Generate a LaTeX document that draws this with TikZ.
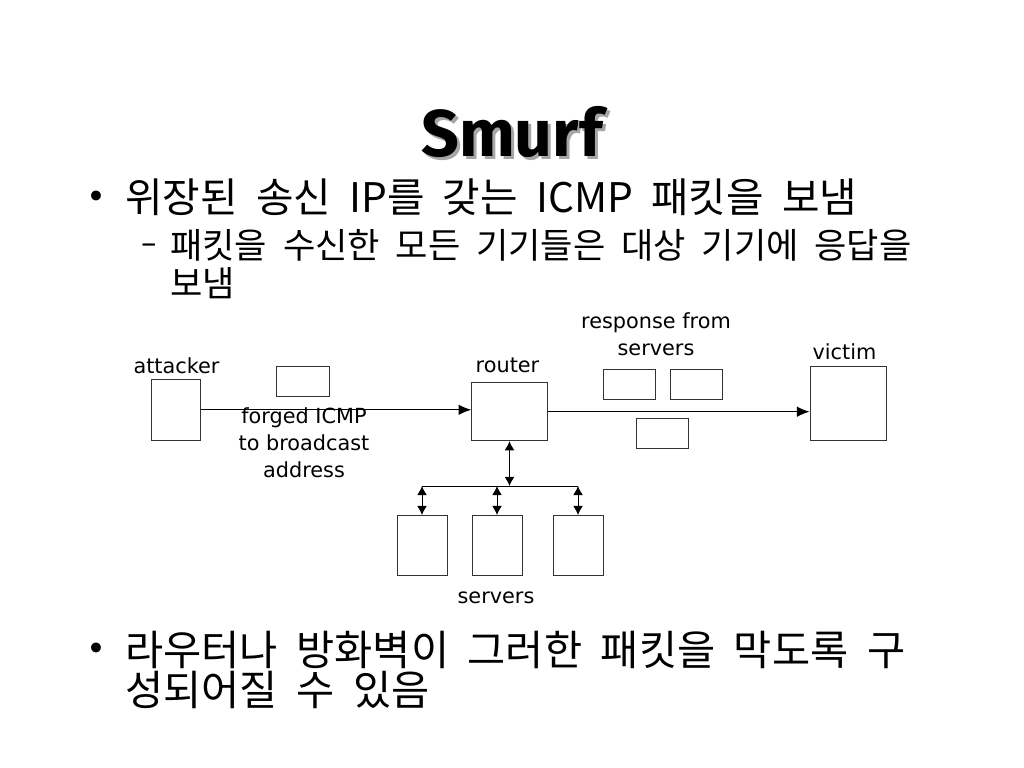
\documentclass[tikz,border=0pt]{standalone}
\usepackage{fontspec}
\setmainfont{DejaVu Sans}
\newfontfamily\krfont[WordSpace=2]{Noto Sans CJK KR}
\newfontfamily\titlefont{Fira Sans}
\usetikzlibrary{arrows.meta}

\begin{document}
\begin{tikzpicture}[x=0.025cm,y=-0.025cm,
	host/.style={draw=black!80,line width=0.7pt,inner sep=0},
	pkt/.style={draw=black!80,line width=0.7pt,inner sep=0,minimum width=1.31cm,minimum height=0.75cm},
	lbl/.style={font=\fontsize{14.8}{19}\selectfont,inner sep=0,anchor=base,align=center},
	flow/.style={line width=0.7pt,-{Latex[length=9pt,width=7.5pt]}},
	link/.style={line width=0.7pt,{Latex[length=6.5pt,width=7pt]}-{Latex[length=6.5pt,width=7pt]}}]
	\path[use as bounding box,fill=white] (0,0) rectangle (1024,768);

	% title with its shadow
	\node[text=black!35,font=\titlefont\bfseries\fontsize{47}{56}\selectfont] (titleshadow) at (515,135) {Smurf};
	\node[font=\titlefont\bfseries\fontsize{47}{56}\selectfont] (title) at (512,132) {Smurf};

	% bullets
	\node[font=\fontsize{24}{28}\selectfont,inner sep=0] (bulA) at (96,200) {•};
	\node[font=\krfont\fontsize{29}{34}\selectfont,inner sep=0,anchor=base west] (lineA) at (125,212) {위장된 송신 IP를 갖는 ICMP 패킷을 보냄};
	\node[font=\fontsize{22}{26}\selectfont,inner sep=0] (dashA) at (149,249) {–};
	\node[font=\krfont\fontsize{25}{28}\selectfont,inner sep=0,anchor=base west] (subA) at (170,258) {패킷을 수신한 모든 기기들은 대상 기기에 응답을};
	\node[font=\krfont\fontsize{25}{28}\selectfont,inner sep=0,anchor=base west] (subB) at (170,296) {보냄};
	\node[font=\fontsize{24}{28}\selectfont,inner sep=0] (bulB) at (96,652) {•};
	\node[font=\krfont\fontsize{29.5}{34}\selectfont,inner sep=0,anchor=base west] (lineB) at (125,665) {라우터나 방화벽이 그러한 패킷을 막도록 구};
	\node[font=\krfont\fontsize{29.5}{34}\selectfont,inner sep=0,anchor=base west] (lineC) at (125,705) {성되어질 수 있음};

	% hosts
	\node[host,minimum width=1.225cm,minimum height=1.54cm] (atk) at (176.2,409.8) {};
	\node[host,minimum width=1.89cm,minimum height=1.45cm] (rtr) at (509.5,411.7) {};
	\node[host,minimum width=1.9cm,minimum height=1.85cm] (vic) at (848,403.7) {};
	\node[host,minimum width=1.25cm,minimum height=1.5cm] (srv1) at (422,545.5) {};
	\node[host,minimum width=1.25cm,minimum height=1.5cm] (srv2) at (497,545.5) {};
	\node[host,minimum width=1.25cm,minimum height=1.5cm] (srv3) at (578,545.5) {};

	% packets
	\node[pkt] (pkA) at (302.8,381.7) {};
	\node[pkt] (pkB) at (629.2,384) {};
	\node[pkt] (pkC) at (696.7,384) {};
	\node[pkt] (pkD) at (662.3,433) {};

	% labels (base of a wrapped label is its last line)
	\node[lbl] (atklbl) at (176.5,373) {attacker};
	\node[lbl] (rtrlbl) at (507.5,372) {router};
	\node[lbl] (viclbl) at (844.5,359) {victim};
	\node[lbl] (resplbl) at (656,355) {response from\\servers};
	\node[lbl] (forglbl) at (304,477) {forged ICMP\\to broadcast\\address};
	\node[lbl] (srvlbl) at (496,603) {servers};

	% connections
	\coordinate (bus) at (510,486);
	\draw[flow] (atk.east) -- (atk.east -| rtr.west);
	\draw[flow] (rtr.east) -- (rtr.east -| vic.west);
	\draw[link] (rtr.south) -- (rtr.south |- bus);
	\draw[line width=0.7pt] (srv1.north |- bus) -- (srv3.north |- bus);
	\foreach \s in {srv1,srv2,srv3}
		\draw[link] (\s.north |- bus) -- (\s.north);
\end{tikzpicture}
\end{document}
